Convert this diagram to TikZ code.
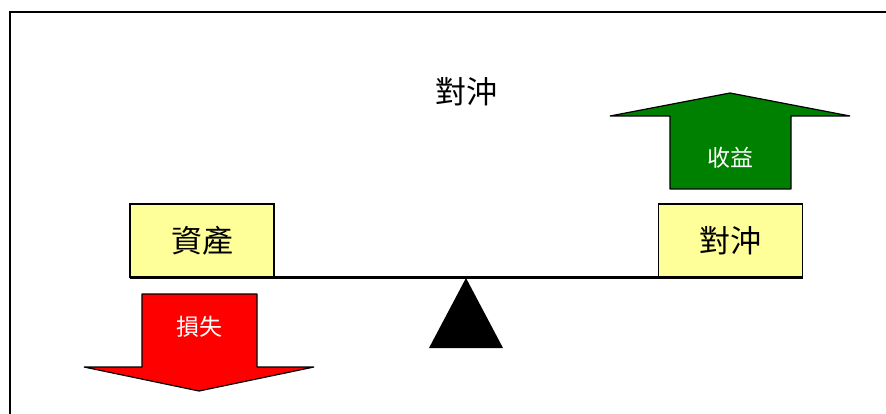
\documentclass[tikz,border=0pt]{standalone}
\usepackage{fontspec}
\newfontfamily\tcfont{Noto Sans CJK TC}
\usetikzlibrary{shapes,arrows}
\definecolor{padyellow}{RGB}{255,255,153}
\definecolor{gaingreen}{RGB}{0,128,0}

\begin{document}
\begin{tikzpicture}[x=1pt,y=-1pt,semithick]
\tikzstyle{every node}=[font=\tcfont\fontsize{31}{31}\selectfont]
\tikzstyle{weight}=[draw=black,fill=padyellow,line width=1.2pt,minimum width=144pt,minimum height=73pt,inner sep=0pt]
\tikzstyle{flow}=[draw=black,line join=bevel,line width=1.2pt]
\tikzstyle{flowtext}=[text=white,font=\tcfont\fontsize{23}{23}\selectfont]
\useasboundingbox (0,0) rectangle (886,414);
\draw[line width=1.5pt] (10,414) -- (10,12) -- (886,12);
\node (title) at (466,92) {對沖};
% beam and pivot
\draw[line width=3pt] (130,277) -- (803,277);
\coordinate (pivot) at (466,278);
\fill (pivot) -- (503,348) -- (429,348) -- cycle;
\node[weight] (asset) at (202,240.5) {資產};
\node[weight] (hedge) at (730.5,240.5) {對沖};
% gain and loss arrows
\draw[flow,fill=gaingreen] (730,93) -- (850,116) -- (791,116) -- (791,189) -- (670,189) -- (670,116) -- (610,116) -- cycle;
\node[flowtext] (gain) at (730,158) {收益};
\draw[flow,fill=red] (199,391) -- (314,367) -- (257,367) -- (257,294) -- (142,294) -- (142,367) -- (84,367) -- cycle;
\node[flowtext] (loss) at (199,327) {損失};
\end{tikzpicture}
\end{document}
